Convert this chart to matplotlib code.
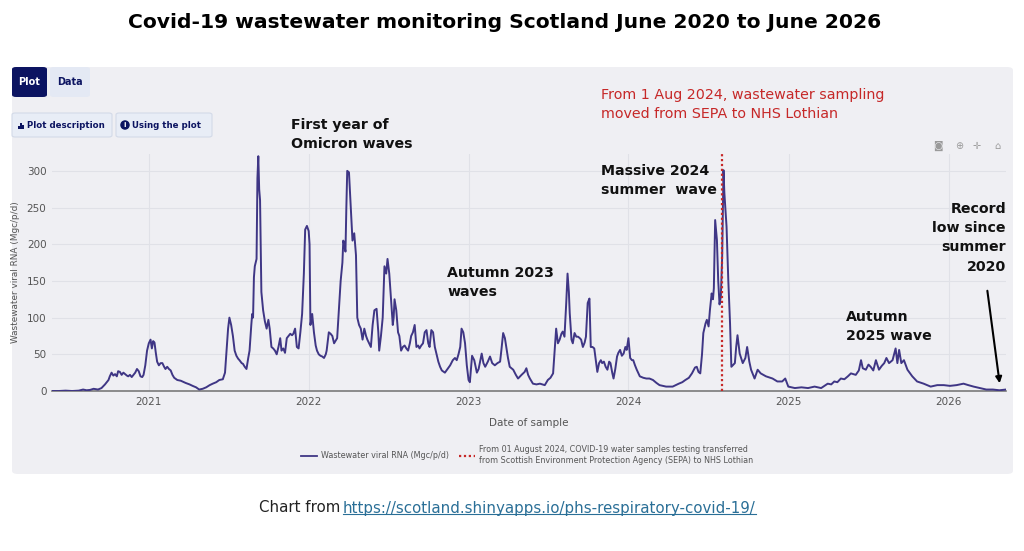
import matplotlib
matplotlib.use("Agg")
import matplotlib.pyplot as plt
from matplotlib.patches import FancyBboxPatch, Rectangle
from matplotlib.lines import Line2D
import pandas as pd

W, H = 1024, 551

# weekly-ish readings of the PHS wastewater series (Mgc/p/d)
dates = [
    "2020-05-25", "2020-06-10", "2020-06-25", "2020-07-10", "2020-07-25", "2020-08-04",
    "2020-08-12", "2020-08-20", "2020-08-28", "2020-09-07", "2020-09-15", "2020-09-23",
    "2020-10-01", "2020-10-04", "2020-10-08", "2020-10-12", "2020-10-16", "2020-10-20",
    "2020-10-23", "2020-10-27", "2020-10-31", "2020-11-04", "2020-11-08", "2020-11-12",
    "2020-11-15", "2020-11-19", "2020-11-23", "2020-11-27", "2020-12-01", "2020-12-05",
    "2020-12-09", "2020-12-13", "2020-12-17", "2020-12-20", "2020-12-24", "2020-12-28",
    "2021-01-01", "2021-01-05", "2021-01-08", "2021-01-11", "2021-01-14", "2021-01-17",
    "2021-01-20", "2021-01-24", "2021-01-28", "2021-02-01", "2021-02-05", "2021-02-08",
    "2021-02-12", "2021-02-16", "2021-02-20", "2021-02-24", "2021-02-28", "2021-03-07",
    "2021-03-15", "2021-03-26", "2021-04-04", "2021-04-11", "2021-04-19", "2021-04-26",
    "2021-05-04", "2021-05-12", "2021-05-20", "2021-05-27", "2021-06-04", "2021-06-11",
    "2021-06-19", "2021-06-24", "2021-06-27", "2021-07-01", "2021-07-04", "2021-07-08",
    "2021-07-12", "2021-07-16", "2021-07-20", "2021-07-24", "2021-07-27", "2021-08-01",
    "2021-08-04", "2021-08-08", "2021-08-12", "2021-08-16", "2021-08-19", "2021-08-23",
    "2021-08-25", "2021-08-27", "2021-08-29", "2021-08-31", "2021-09-02", "2021-09-04",
    "2021-09-06", "2021-09-08", "2021-09-10", "2021-09-12", "2021-09-14", "2021-09-15",
    "2021-09-19", "2021-09-23", "2021-09-27", "2021-10-01", "2021-10-04", "2021-10-08",
    "2021-10-12", "2021-10-16", "2021-10-20", "2021-10-24", "2021-10-28", "2021-10-31",
    "2021-11-04", "2021-11-08", "2021-11-12", "2021-11-16", "2021-11-20", "2021-11-24",
    "2021-11-27", "2021-12-01", "2021-12-05", "2021-12-09", "2021-12-13", "2021-12-17",
    "2021-12-21", "2021-12-24", "2021-12-28",
    "2022-01-01", "2022-01-03", "2022-01-05", "2022-01-09", "2022-01-13", "2022-01-17",
    "2022-01-20", "2022-01-24", "2022-01-28", "2022-02-01", "2022-02-05", "2022-02-09",
    "2022-02-11", "2022-02-16", "2022-02-20", "2022-02-24", "2022-02-28", "2022-03-03",
    "2022-03-07", "2022-03-11", "2022-03-15", "2022-03-19", "2022-03-21", "2022-03-23",
    "2022-03-26", "2022-03-28", "2022-03-30", "2022-04-03", "2022-04-07", "2022-04-11",
    "2022-04-15", "2022-04-17", "2022-04-19", "2022-04-22", "2022-04-26", "2022-04-30",
    "2022-05-04", "2022-05-08", "2022-05-12", "2022-05-15", "2022-05-19", "2022-05-23",
    "2022-05-27", "2022-05-31", "2022-06-05", "2022-06-09", "2022-06-11", "2022-06-15",
    "2022-06-19", "2022-06-23", "2022-06-25", "2022-06-27", "2022-06-30", "2022-07-04",
    "2022-07-08", "2022-07-12", "2022-07-14", "2022-07-16", "2022-07-20", "2022-07-24",
    "2022-07-27", "2022-07-31", "2022-08-04", "2022-08-08", "2022-08-12", "2022-08-16",
    "2022-08-20", "2022-08-23", "2022-08-27", "2022-08-31", "2022-09-04", "2022-09-08",
    "2022-09-11", "2022-09-15", "2022-09-19", "2022-09-23", "2022-09-27", "2022-10-01",
    "2022-10-04", "2022-10-08", "2022-10-12", "2022-10-16", "2022-10-20", "2022-10-24",
    "2022-10-28", "2022-11-01", "2022-11-08", "2022-11-14", "2022-11-20", "2022-11-26",
    "2022-12-01", "2022-12-05", "2022-12-09", "2022-12-13", "2022-12-16", "2022-12-20",
    "2022-12-24", "2022-12-28",
    "2023-01-01", "2023-01-04", "2023-01-09", "2023-01-14", "2023-01-20", "2023-01-24",
    "2023-01-31", "2023-02-04", "2023-02-08", "2023-02-14", "2023-02-19", "2023-02-24",
    "2023-03-02", "2023-03-08", "2023-03-14", "2023-03-17", "2023-03-21", "2023-03-25",
    "2023-03-28", "2023-04-01", "2023-04-05", "2023-04-13", "2023-04-19", "2023-04-24",
    "2023-05-02", "2023-05-09", "2023-05-13", "2023-05-17", "2023-05-21", "2023-05-28",
    "2023-06-05", "2023-06-13", "2023-06-24", "2023-07-01", "2023-07-07", "2023-07-13",
    "2023-07-17", "2023-07-20", "2023-07-24", "2023-07-28", "2023-08-01", "2023-08-04",
    "2023-08-08", "2023-08-12", "2023-08-15", "2023-08-18", "2023-08-20", "2023-08-24",
    "2023-08-27", "2023-08-31", "2023-09-04", "2023-09-08", "2023-09-12", "2023-09-15",
    "2023-09-19", "2023-09-23", "2023-09-26", "2023-09-30", "2023-10-04", "2023-10-07",
    "2023-10-11", "2023-10-15", "2023-10-19", "2023-10-22", "2023-10-26", "2023-10-30",
    "2023-11-02", "2023-11-06", "2023-11-10", "2023-11-14", "2023-11-18", "2023-11-21",
    "2023-11-25", "2023-11-28", "2023-12-02", "2023-12-06", "2023-12-09", "2023-12-13",
    "2023-12-17", "2023-12-21", "2023-12-25", "2023-12-28",
    "2024-01-01", "2024-01-05", "2024-01-09", "2024-01-12", "2024-01-16", "2024-01-20",
    "2024-01-27", "2024-02-04", "2024-02-11", "2024-02-18", "2024-02-26", "2024-03-05",
    "2024-03-12", "2024-03-20", "2024-03-27", "2024-04-04", "2024-04-11", "2024-04-18",
    "2024-04-25", "2024-05-03", "2024-05-10", "2024-05-18", "2024-05-25", "2024-06-01",
    "2024-06-05", "2024-06-09", "2024-06-13", "2024-06-17", "2024-06-20", "2024-06-25",
    "2024-06-28", "2024-07-02", "2024-07-05", "2024-07-09", "2024-07-12", "2024-07-14",
    "2024-07-17", "2024-07-21", "2024-07-24", "2024-07-27", "2024-07-30", "2024-08-02",
    "2024-08-05", "2024-08-07", "2024-08-09", "2024-08-12", "2024-08-16", "2024-08-20",
    "2024-08-23", "2024-08-31", "2024-09-03", "2024-09-06", "2024-09-11", "2024-09-18",
    "2024-09-24", "2024-09-28", "2024-10-03", "2024-10-07", "2024-10-15", "2024-10-22",
    "2024-10-29", "2024-11-10", "2024-11-25", "2024-12-06", "2024-12-17", "2024-12-24",
    "2024-12-31",
    "2025-01-15", "2025-01-30", "2025-02-14", "2025-03-01", "2025-03-16", "2025-03-31",
    "2025-04-08", "2025-04-15", "2025-04-22", "2025-04-30", "2025-05-08", "2025-05-16",
    "2025-05-23", "2025-06-03", "2025-06-10", "2025-06-15", "2025-06-19", "2025-06-26",
    "2025-07-02", "2025-07-07", "2025-07-13", "2025-07-19", "2025-07-26", "2025-08-01",
    "2025-08-07", "2025-08-12", "2025-08-18", "2025-08-22", "2025-08-26", "2025-09-02",
    "2025-09-06", "2025-09-10", "2025-09-15", "2025-09-21", "2025-09-29", "2025-10-05",
    "2025-10-10", "2025-10-21", "2025-11-05", "2025-11-21", "2025-12-06", "2025-12-21",
    "2026-01-04", "2026-01-19", "2026-02-04", "2026-02-15", "2026-02-27", "2026-03-13",
    "2026-03-28", "2026-04-12", "2026-04-27", "2026-05-12",
]
values = [
    0, 0, 0.5, 0, 0.5, 2,
    1, 1.5, 3, 2, 4, 9,
    15, 20, 25, 21, 23, 20,
    27, 26, 22, 25, 23, 21,
    20, 22, 19, 22, 25, 30,
    27, 20, 19, 22, 35, 55,
    65, 70, 58, 68, 66, 52,
    40, 35, 38, 38, 33, 30,
    33, 30, 28, 22, 18, 15,
    14, 11, 9, 7, 5, 2,
    3, 5, 8, 10, 12, 15,
    16, 25, 50, 85, 100, 90,
    75, 55, 48, 44, 42, 38,
    37, 33, 30, 45, 55, 90,
    105, 100, 155, 170, 175, 180,
    290, 320, 275, 260, 180, 135,
    110, 95, 85, 97, 85, 60,
    58, 55, 50, 60, 72, 55,
    58, 52, 72, 75, 78, 76,
    78, 85, 60, 58, 80, 105,
    160, 220, 225,
    218, 200, 90, 105, 80, 62,
    55, 50, 48, 47, 45, 50,
    55, 80, 78, 75, 65, 68,
    72, 110, 150, 175, 205, 200,
    190, 250, 300, 298, 250, 205,
    215, 200, 185, 100, 90, 85,
    70, 85, 75, 70, 65, 60,
    90, 110, 112, 80, 55, 75,
    100, 170, 165, 160, 180, 160,
    125, 90, 100, 125, 110, 80,
    75, 55, 60, 62, 58, 55,
    65, 75, 80, 90, 60, 62,
    58, 62, 65, 80, 83, 65,
    60, 83, 80, 60, 50, 40,
    33, 28, 25, 30, 35, 42,
    45, 42, 50, 60, 85, 80,
    65, 35,
    15, 12, 48, 42, 25, 30,
    51, 38, 33, 40, 47, 38,
    35, 38, 40, 56, 79, 72,
    60, 45, 33, 29, 22, 17,
    22, 26, 31, 22, 17, 10,
    9, 10, 8, 15, 18, 24,
    60, 85, 65, 70, 78, 81,
    74, 120, 160, 135, 106, 70,
    65, 79, 74, 74, 72, 70,
    60, 66, 74, 120, 126, 60,
    60, 58, 40, 26, 38, 42,
    38, 40, 33, 29, 40, 38,
    25, 17, 30, 47, 52, 56,
    48, 51, 60, 56,
    72, 45, 42, 42, 35, 29,
    20, 18, 17, 17, 15, 11,
    8, 7, 6, 6, 6, 8,
    10, 12, 15, 18, 24, 32,
    33, 26, 24, 50, 79, 92,
    97, 88, 110, 133, 125, 140,
    233, 206, 150, 118, 129, 183,
    301, 270, 251, 224, 151, 92,
    33, 38, 60, 76, 51, 38,
    45, 60, 40, 29, 17, 29,
    24, 20, 17, 13, 13, 17,
    6,
    4, 5, 4, 6, 4, 10,
    9, 13, 12, 17, 16, 20,
    24, 22, 28, 42, 31, 29,
    36, 33, 28, 42, 29, 34,
    38, 45, 38, 40, 42, 58,
    38, 56, 38, 42, 29, 24,
    20, 13, 10, 6, 8, 8,
    7, 8, 10, 8, 6, 4,
    2, 2, 1, 2,
]

year_ticks = ["2021", "2022", "2023", "2024", "2025", "2026"]
y_ticks = [0, 50, 100, 150, 200, 250, 300]
switch_date = "2024-08-01"

series_label = "Wastewater viral RNA (Mgc/p/d)"
switch_label = ("From 01 August 2024, COVID-19 water samples testing transferred\n"
                "from Scottish Environment Protection Agency (SEPA) to NHS Lothian")

LINE = "#3f3685"
RED = "#c62828"
PANEL = "#efeff3"
GREY_TXT = "#555555"


def fx(x):
    return x / W


def fy(y):
    return 1 - y / H


plt.rcParams["font.family"] = ["DejaVu Sans"]
fig = plt.figure(figsize=(W / 100, H / 100), dpi=100, facecolor="white")

# dashboard panel behind the chart
fig.patches.append(FancyBboxPatch((fx(12), fy(474)), fx(1013) - fx(12), fy(67) - fy(474),
                                  boxstyle="round,pad=0,rounding_size=0.006",
                                  transform=fig.transFigure, facecolor=PANEL,
                                  edgecolor="none", zorder=-3))

# tabs
fig.patches.append(FancyBboxPatch((fx(50), fy(97)), fx(40), fy(67) - fy(97),
                                  boxstyle="round,pad=0,rounding_size=0.004",
                                  transform=fig.transFigure, facecolor="#e4e9f4",
                                  edgecolor="none", zorder=-1))
fig.patches.append(FancyBboxPatch((fx(12), fy(97)), fx(35), fy(67) - fy(97),
                                  boxstyle="round,pad=0,rounding_size=0.004",
                                  transform=fig.transFigure, facecolor="#0c1461",
                                  edgecolor="none", zorder=-1))
fig.text(fx(29.5), fy(82), "Plot", color="white", fontsize=7, fontweight="bold",
         ha="center", va="center")
fig.text(fx(70), fy(82), "Data", color="#0c1461", fontsize=7, fontweight="bold",
         ha="center", va="center")

# buttons
for x0, x1 in [(12, 112), (116, 212)]:
    fig.patches.append(FancyBboxPatch((fx(x0), fy(137)), fx(x1 - x0), fy(113) - fy(137),
                                      boxstyle="round,pad=0,rounding_size=0.003",
                                      transform=fig.transFigure, facecolor="#e8edf6",
                                      edgecolor="#d3dae8", linewidth=0.8, zorder=-1))
for i, h in enumerate([3, 6, 4]):
    fig.patches.append(Rectangle((fx(18 + i * 2.2), fy(129)), fx(1.5), fy(129 - h) - fy(129),
                                 transform=fig.transFigure, facecolor="#0c1461", zorder=1))
fig.text(fx(27), fy(125), "Plot description", color="#0c1461", fontsize=6.2,
         fontweight="bold", ha="left", va="center")
fig.text(fx(125), fy(125), "i", color="white", fontsize=5, fontweight="bold",
         ha="center", va="center",
         bbox=dict(boxstyle="circle,pad=0.25", facecolor="#0c1461", edgecolor="none"))
fig.text(fx(132), fy(125), "Using the plot", color="#0c1461", fontsize=6.2,
         fontweight="bold", ha="left", va="center")

# chart
ax = fig.add_axes([fx(52), fy(391), fx(1006) - fx(52), fy(154) - fy(391)])
ax.set_facecolor(PANEL)
x = pd.to_datetime(dates)
ax.plot(x, values, color=LINE, linewidth=1.4, zorder=3, label=series_label)
ax.axvline(pd.Timestamp(switch_date), color=RED, linestyle=(0, (1, 1.2)),
           linewidth=1.6, zorder=4, label=switch_label)
ax.set_xlim(pd.Timestamp("2020-05-25"), pd.Timestamp("2026-05-12"))
ax.set_ylim(0, 323)
ax.set_yticks(y_ticks)
ax.set_xticks(pd.to_datetime([y + "-01-01" for y in year_ticks]))
ax.set_xticklabels(year_ticks)
ax.grid(True, color="#e0e1e7", linewidth=0.8)
ax.set_axisbelow(True)
for s in ["top", "right", "left"]:
    ax.spines[s].set_visible(False)
ax.spines["bottom"].set_color("#7a7a7a")
ax.spines["bottom"].set_linewidth(1.2)
ax.tick_params(axis="both", length=0, labelsize=7.5, labelcolor=GREY_TXT, pad=4)
ax.set_ylabel(series_label, fontsize=6.4, color=GREY_TXT, labelpad=5)
ax.set_xlabel("Date of sample", fontsize=7.5, color=GREY_TXT, labelpad=8)

handles = [Line2D([], [], color=LINE, linewidth=1.3),
           Line2D([], [], color=RED, linestyle=(0, (1, 1.2)), linewidth=1.6)]
fig.legend(handles, [series_label, switch_label], loc="center",
           bbox_to_anchor=(fx(527), fy(455)), ncol=2, frameon=False, fontsize=5.8,
           labelcolor=GREY_TXT, handlelength=2.0, columnspacing=1.2, handletextpad=0.5)

# plotly toolbar
for xi, glyph in [(938, "\u25d9"), (959, "\u2295"), (977, "\u271b"), (997, "\u2302")]:
    fig.text(fx(xi), fy(146), glyph, color="#9a9a9a", fontsize=7, ha="center", va="center")

# annotations
note = dict(fontsize=10.2, fontweight="bold", color="#111111", linespacing=1.45)
fig.text(fx(291), fy(118), "First year of\nOmicron waves", ha="left", va="top", **note)
fig.text(fx(447), fy(266), "Autumn 2023\nwaves", ha="left", va="top", **note)
fig.text(fx(601), fy(164), "Massive 2024\nsummer  wave", ha="left", va="top", **note)
fig.text(fx(846), fy(310), "Autumn\n2025 wave", ha="left", va="top", **note)
fig.text(fx(1006), fy(202), "Record\nlow since\nsummer\n2020", ha="right", va="top",
         fontsize=10.2, fontweight="bold", color="#111111", linespacing=1.47)
fig.text(fx(601), fy(88), "From 1 Aug 2024, wastewater sampling\nmoved from SEPA to NHS Lothian",
         ha="left", va="top", fontsize=10.3, color=RED, linespacing=1.45)
ax.annotate("", xy=(fx(1000), fy(386)), xytext=(fx(987), fy(288)),
            xycoords="figure fraction", textcoords="figure fraction",
            arrowprops=dict(arrowstyle="-|>", color="black", lw=1.5, mutation_scale=9))

fig.text(fx(505), fy(22), "Covid-19 wastewater monitoring Scotland June 2020 to June 2026",
         ha="center", va="center", fontsize=14.6, fontweight="bold", color="black")

# source line with underlined link
src = fig.text(fx(340), fy(508), "Chart from", ha="right", va="center", fontsize=10.8,
               color="#222222")
url = fig.text(fx(343), fy(508), "https://scotland.shinyapps.io/phs-respiratory-covid-19/",
               ha="left", va="center", fontsize=10.8, color="#2a6f97")
fig.canvas.draw()
bb = url.get_window_extent().transformed(fig.transFigure.inverted())
fig.lines.append(Line2D([bb.x0, bb.x1], [bb.y0 + 0.002, bb.y0 + 0.002],
                        transform=fig.transFigure, color="#2a6f97", linewidth=0.8))

fig.savefig("out.png", dpi=100, facecolor="white")
